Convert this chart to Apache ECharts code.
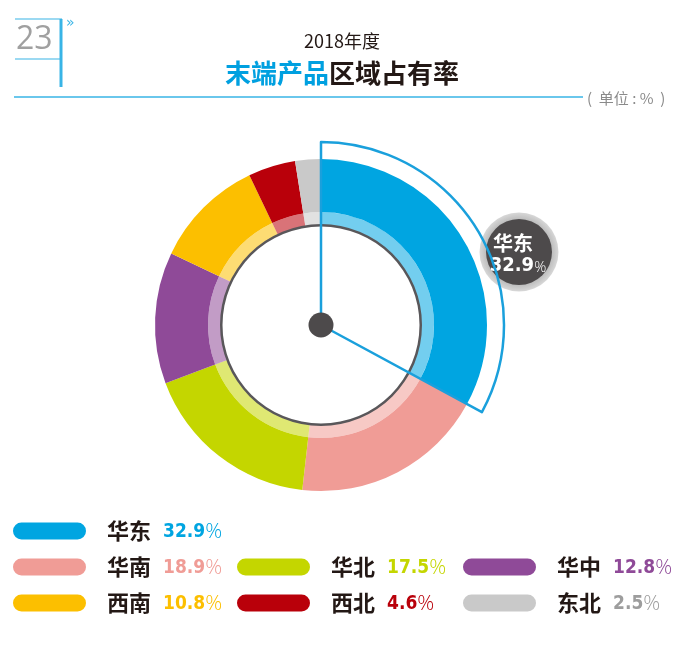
<!DOCTYPE html>
<html>
<head>
<meta charset="utf-8">
<script src="https://cdn.jsdelivr.net/npm/echarts@6/dist/echarts.min.js"></script>
<style>
html,body{margin:0;padding:0;background:#fff;}
#main{width:700px;height:653px;}
</style>
</head>
<body>
<div id="main"></div>
<script>
// ---- data ----
var categories = ['华东', '华南', '华北', '华中', '西南', '西北', '东北'];
var values = [32.9, 18.9, 17.5, 12.8, 10.8, 4.6, 2.5];
var colors = ['#00a5e1', '#f09c96', '#c4d600', '#8f4a98', '#fcbf00', '#b9000a', '#c9c9c9'];
var valueColors = ['#00a5e1', '#f09c96', '#c4d600', '#8f4a98', '#fcbf00', '#b9000a', '#9d9d9d'];
var titleLine1 = '2018年度';
var titleBlue = '末端产品';
var titleBlack = '区域占有率';
var unitText = '(  单位 : %  )';
var pageNo = '23';

// ---- layout ----
var center = [321, 325];
var legendCols = [13, 237, 463];
var legendRows = [519.5, 555.5, 591.5];
var legendSlots = [[0,0],[1,0],[1,1],[1,2],[2,0],[2,1],[2,2]];

var chart = echarts.init(document.getElementById('main'), null, {renderer: 'canvas'});

var mainData = categories.map(function (c, i) {
  return {name: c, value: values[i], itemStyle: {color: colors[i]}};
});
var lightData = categories.map(function (c, i) {
  return {name: c, value: values[i], itemStyle: {color: colors[i], opacity: 0.55}};
});
var outlineData = categories.map(function (c, i) {
  return i === 0
    ? {name: c, value: values[i], itemStyle: {color: 'rgba(0,0,0,0)', borderColor: '#1aa0dc', borderWidth: 2.5}}
    : {name: c, value: values[i], itemStyle: {color: 'rgba(0,0,0,0)', borderWidth: 0}};
});

var pillPath = 'path://M8.5,0H64.5A8.5,8.5,0,0,1,64.5,17H8.5A8.5,8.5,0,0,1,8.5,0Z';
var legends = categories.map(function (c, i) {
  var slot = legendSlots[i];
  return {
    data: [c],
    left: legendCols[slot[1]],
    top: legendRows[slot[0]],
    padding: 0,
    itemWidth: 73,
    itemHeight: 17,
    icon: pillPath,
    selectedMode: false,
    formatter: function (name) {
      var idx = categories.indexOf(name);
      return '{n|' + name + '}{v|' + values[idx].toFixed(1) + '}{p|%}';
    },
    textStyle: {
      rich: {
        n: {fontSize: 22, fontWeight: 'bold', color: '#231815', fontFamily: 'Noto Sans CJK SC', padding: [0, 0, 0, 16], lineHeight: 24},
        v: {fontSize: 19, fontWeight: 'bold', color: valueColors[i], fontFamily: 'DejaVu Sans Condensed', padding: [2, 0, 0, 12], lineHeight: 24},
        p: {fontSize: 21, fontWeight: 300, color: valueColors[i], fontFamily: 'Open Sans', padding: [2, 0, 0, 0], lineHeight: 24}
      }
    }
  };
});

var blue = '#38b4e6';
var option = {
  backgroundColor: '#ffffff',
  animation: false,
  legend: legends,
  series: [
    {
      type: 'pie', name: 'main', silent: true, center: center, radius: [113, 166],
      startAngle: 90, clockwise: true, label: {show: false}, labelLine: {show: false},
      data: mainData, z: 2
    },
    {
      type: 'pie', name: 'light', silent: true, center: center, radius: [100, 113],
      startAngle: 90, clockwise: true, label: {show: false}, labelLine: {show: false},
      data: lightData, z: 2
    },
    {
      type: 'pie', name: 'ring', silent: true, center: center, radius: [98.5, 101],
      label: {show: false}, labelLine: {show: false},
      data: [{name: 'ring', value: 1, itemStyle: {color: '#59575a'}}], z: 3
    },
    {
      type: 'pie', name: 'outline', silent: true, center: center, radius: [0, 183],
      startAngle: 90, clockwise: true, label: {show: false}, labelLine: {show: false},
      data: outlineData, z: 4
    },
    {
      type: 'pie', name: 'dot', silent: true, center: center, radius: [0, 12.5],
      label: {show: false}, labelLine: {show: false},
      data: [{name: 'dot', value: 1, itemStyle: {color: '#4d4a4b'}}], z: 5
    }
  ],
  graphic: [
    // header decoration
    {type: 'line', shape: {x1: 15, y1: 19, x2: 62, y2: 19}, style: {stroke: blue, lineWidth: 1.2}},
    {type: 'line', shape: {x1: 15, y1: 59, x2: 62, y2: 59}, style: {stroke: blue, lineWidth: 1.2}},
    {type: 'rect', shape: {x: 59.5, y: 19, width: 3, height: 68}, style: {fill: blue}},
    {type: 'text', x: 16, y: 40, style: {text: pageNo, font: '32px "Open Sans", sans-serif', fill: '#a0a0a0', verticalAlign: 'middle'}},
    {type: 'text', x: 66, y: 23, style: {text: '»', font: '14px "DejaVu Sans", sans-serif', fill: blue, verticalAlign: 'middle'}},
    {type: 'text', x: 342, y: 41, style: {text: titleLine1, font: '18px "Noto Sans CJK SC", sans-serif', fill: '#231815', align: 'center', verticalAlign: 'middle'}},
    {type: 'text', x: 342, y: 73, style: {
      text: '{b|' + titleBlue + '}{k|' + titleBlack + '}',
      align: 'center', verticalAlign: 'middle',
      rich: {
        b: {font: 'bold 26px "Noto Sans CJK SC", sans-serif', fill: '#00a0e0'},
        k: {font: 'bold 26px "Noto Sans CJK SC", sans-serif', fill: '#231815'}
      }
    }},
    {type: 'line', shape: {x1: 14, y1: 97, x2: 583, y2: 97}, style: {stroke: blue, lineWidth: 1.3}},
    {type: 'text', x: 587, y: 98, style: {text: unitText, font: '15px "Noto Sans CJK SC", sans-serif', fill: '#8a8a8a', verticalAlign: 'middle'}},
    // bubble
    {type: 'group', x: 519, y: 252, z: 100, children: [
      {type: 'circle', shape: {cx: 0, cy: 0, r: 39.5}, style: {fill: new echarts.graphic.RadialGradient(0.5, 0.5, 0.5, [{offset: 0.8, color: '#b8b8b8'}, {offset: 1, color: '#d8d8d8'}])}},
      {type: 'circle', shape: {cx: 0, cy: 0, r: 33}, style: {fill: '#4d4a4b'}},
      {type: 'text', x: -6, y: -9, style: {text: categories[0], font: 'bold 20px "Noto Sans CJK SC", sans-serif', fill: '#ffffff', align: 'center', verticalAlign: 'middle'}},
      {type: 'text', x: -1, y: 14, style: {
        text: '{v|' + values[0].toFixed(1) + '}{p|%}', align: 'center', verticalAlign: 'middle',
        rich: {
          v: {font: 'bold 20px "DejaVu Sans Condensed", sans-serif', fill: '#ffffff'},
          p: {font: '300 15px "Open Sans", sans-serif', fill: '#ffffff', padding: [3, 0, 0, 0]}
        }
      }}
    ]}
  ]
};
chart.setOption(option);
</script>
</body>
</html>
